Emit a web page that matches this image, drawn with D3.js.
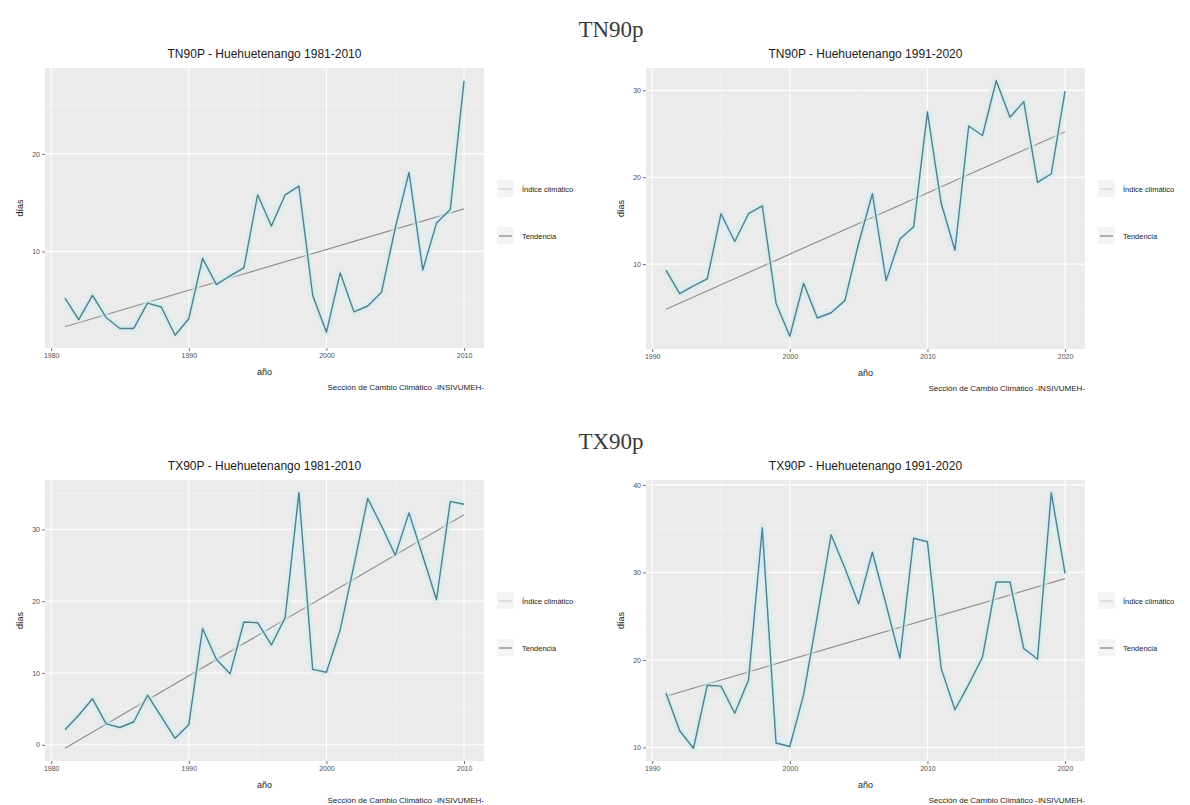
<!DOCTYPE html>
<html>
<head>
<meta charset="utf-8">
<script src="https://cdn.jsdelivr.net/npm/d3@7"></script>
<style>
  html, body { margin: 0; padding: 0; background: #ffffff; }
  svg { display: block; }
</style>
</head>
<body>
<svg id="chart" width="1190" height="805"></svg>
<script>
// Percentile-based temperature indices, Huehuetenango (days per year)
const years8110 = d3.range(1981, 2011);
const years9120 = d3.range(1991, 2021);

const tn90p8110 = [5.2, 3.0, 5.5, 3.2, 2.1, 2.1, 4.7, 4.3, 1.4, 3.1,
                   9.3, 6.6, 7.5, 8.3, 15.8, 12.6, 15.8, 16.7, 5.5, 1.7,
                   7.8, 3.8, 4.4, 5.8, 12.4, 18.1, 8.1, 12.9, 14.3, 27.5];
const tn90p9120 = [9.3, 6.6, 7.5, 8.3, 15.8, 12.6, 15.8, 16.7, 5.5, 1.7,
                   7.8, 3.8, 4.4, 5.8, 12.4, 18.1, 8.1, 12.9, 14.3, 27.5,
                   17.0, 11.6, 25.9, 24.8, 31.1, 26.9, 28.7, 19.4, 20.4, 29.9];
const tx90p8110 = [2.1, 4.1, 6.4, 2.9, 2.4, 3.2, 6.9, 3.9, 0.9, 2.8,
                   16.2, 11.9, 9.9, 17.1, 17.0, 13.9, 17.7, 35.1, 10.5, 10.1,
                   16.0, 25.0, 34.3, 30.5, 26.4, 32.3, 26.3, 20.2, 33.9, 33.5];
const tx90p9120 = [16.2, 11.9, 9.9, 17.1, 17.0, 13.9, 17.7, 35.1, 10.5, 10.1,
                   16.0, 25.0, 34.3, 30.5, 26.4, 32.3, 26.3, 20.2, 33.9, 33.5,
                   19.0, 14.3, 17.2, 20.3, 28.9, 28.9, 21.3, 20.1, 39.1, 29.9];

const xTicks8110 = [1980, 1990, 2000, 2010];
const xTicks9120 = [1990, 2000, 2010, 2020];
const yTicksTN8110 = [10, 20];
const yTicksTN9120 = [10, 20, 30];
const yTicksTX8110 = [0, 10, 20, 30];
const yTicksTX9120 = [10, 20, 30, 40];

const sectionTitles = ["TN90p", "TX90p"];
const legendLabels = ["Índice climático", "Tendencia"];
const caption = "Sección de Cambio Climático -INSIVUMEH-";

const panels = [
  { title: "TN90P - Huehuetenango 1981-2010", years: years8110, values: tn90p8110,
    xTicks: xTicks8110, yTicks: yTicksTN8110, box: [45, 68, 484, 348] },
  { title: "TN90P - Huehuetenango 1991-2020", years: years9120, values: tn90p9120,
    xTicks: xTicks9120, yTicks: yTicksTN9120, box: [646, 68, 1085, 349] },
  { title: "TX90P - Huehuetenango 1981-2010", years: years8110, values: tx90p8110,
    xTicks: xTicks8110, yTicks: yTicksTX8110, box: [45, 480, 484, 761] },
  { title: "TX90P - Huehuetenango 1991-2020", years: years9120, values: tx90p9120,
    xTicks: xTicks9120, yTicks: yTicksTX9120, box: [646, 480, 1085, 761] }
];

const SANS = "'Liberation Sans', Arial, Helvetica, sans-serif";
const SERIF = "'Liberation Serif', 'Times New Roman', serif";
const svg = d3.select("#chart");

// Section headings
svg.append("text").attr("x", 611).attr("y", 37).attr("text-anchor", "middle")
  .attr("font-family", SERIF).attr("font-size", 23).attr("fill", "#3a3a3a")
  .text(sectionTitles[0]);
svg.append("text").attr("x", 611).attr("y", 449).attr("text-anchor", "middle")
  .attr("font-family", SERIF).attr("font-size", 23).attr("fill", "#3a3a3a")
  .text(sectionTitles[1]);

// Ordinary least-squares fit used for the trend line
function linearFit(xs, ys) {
  const mx = d3.mean(xs), my = d3.mean(ys);
  let sxy = 0, sxx = 0;
  xs.forEach((x, i) => { sxy += (x - mx) * (ys[i] - my); sxx += (x - mx) * (x - mx); });
  const b = sxy / sxx;
  return x => my + b * (x - mx);
}

// Soft edge around the series line
const defs = svg.append("defs");
defs.append("filter").attr("id", "soft").attr("x", "-5%").attr("y", "-5%")
  .attr("width", "110%").attr("height", "110%")
  .append("feGaussianBlur").attr("stdDeviation", 1.6);

function drawPanel(p) {
  const [x0, y0, x1, y1] = p.box;
  const fit = linearFit(p.years, p.values);
  const yrMin = d3.min(p.years), yrMax = d3.max(p.years);
  const trend = [[yrMin, fit(yrMin)], [yrMax, fit(yrMax)]];

  // 5% expansion of the data range (series + trend)
  const allY = p.values.concat(trend.map(d => d[1]));
  const ext = d3.extent(allY);
  const padY = (ext[1] - ext[0]) * 0.05;
  const padX = (yrMax - yrMin) * 0.05;

  const x = d3.scaleLinear().domain([yrMin - padX, yrMax + padX]).range([x0, x1]);
  const y = d3.scaleLinear().domain([ext[0] - padY, ext[1] + padY]).range([y1, y0]);

  const g = svg.append("g");

  // Panel background
  g.append("rect").attr("x", x0).attr("y", y0).attr("width", x1 - x0).attr("height", y1 - y0)
    .attr("fill", "#ebebeb");

  // Minor grid
  const xMinor = p.xTicks.slice(0, -1).map(t => t + 5).filter(t => x(t) > x0 && x(t) < x1);
  const yStep = p.yTicks[1] - p.yTicks[0];
  const yMinor = d3.range(p.yTicks[0] - yStep / 2, p.yTicks[p.yTicks.length - 1] + yStep, yStep)
    .filter(v => y(v) > y0 && y(v) < y1);
  g.selectAll(".xminor").data(xMinor).join("line")
    .attr("x1", d => x(d)).attr("x2", d => x(d)).attr("y1", y0).attr("y2", y1)
    .attr("stroke", "#f5f5f5").attr("stroke-width", 0.6);
  g.selectAll(".yminor").data(yMinor).join("line")
    .attr("x1", x0).attr("x2", x1).attr("y1", d => y(d)).attr("y2", d => y(d))
    .attr("stroke", "#f5f5f5").attr("stroke-width", 0.6);

  // Major grid
  g.selectAll(".xmajor").data(p.xTicks).join("line")
    .attr("x1", d => x(d)).attr("x2", d => x(d)).attr("y1", y0).attr("y2", y1)
    .attr("stroke", "#ffffff").attr("stroke-width", 1.1);
  g.selectAll(".ymajor").data(p.yTicks).join("line")
    .attr("x1", x0).attr("x2", x1).attr("y1", d => y(d)).attr("y2", d => y(d))
    .attr("stroke", "#ffffff").attr("stroke-width", 1.1);

  // Axes
  const xAxis = d3.axisBottom(x).tickValues(p.xTicks).tickSize(3).tickPadding(2)
    .tickFormat(d3.format("d"));
  const yAxis = d3.axisLeft(y).tickValues(p.yTicks).tickSize(3).tickPadding(2)
    .tickFormat(d3.format("d"));
  const gx = g.append("g").attr("transform", `translate(0,${y1})`).call(xAxis);
  const gy = g.append("g").attr("transform", `translate(${x0},0)`).call(yAxis);
  [gx, gy].forEach(a => {
    a.select(".domain").remove();
    a.selectAll(".tick line").attr("stroke", "#4d4d4d").attr("stroke-width", 0.8);
    a.selectAll(".tick text").attr("fill", "#4d4d4d").attr("font-family", SANS)
      .attr("font-size", 7);
  });

  const line = d3.line().x(d => x(d[0])).y(d => y(d[1]));
  const series = p.years.map((yr, i) => [yr, p.values[i]]);

  // Trend
  g.append("path").datum(trend).attr("d", line).attr("fill", "none")
    .attr("stroke", "#909090").attr("stroke-width", 1.2);

  // Index series with a pale halo
  g.append("path").datum(series).attr("d", line).attr("fill", "none")
    .attr("stroke", "#d2ebf1").attr("stroke-width", 6).attr("stroke-linejoin", "round")
    .attr("filter", "url(#soft)").attr("opacity", 0.9);
  g.append("path").datum(series).attr("d", line).attr("fill", "none")
    .attr("stroke", "#517f8b").attr("stroke-width", 1.4).attr("stroke-linejoin", "round");

  // Texts
  const cx = (x0 + x1) / 2;
  g.append("text").attr("x", cx).attr("y", y0 - 10).attr("text-anchor", "middle")
    .attr("font-family", SANS).attr("font-size", 12).attr("fill", "#1a1a1a").text(p.title);
  g.append("text").attr("x", cx).attr("y", y1 + 27).attr("text-anchor", "middle")
    .attr("font-family", SANS).attr("font-size", 9).attr("fill", "#1a1a1a").text("año");
  g.append("text").attr("transform", `translate(${x0 - 22},${(y0 + y1) / 2}) rotate(-90)`)
    .attr("text-anchor", "middle").attr("font-family", SANS).attr("font-size", 9)
    .attr("fill", "#1a1a1a").text("días");
  g.append("text").attr("x", x1).attr("y", y1 + 42).attr("text-anchor", "end")
    .attr("font-family", SANS).attr("font-size", 8).attr("fill", "#1a1a1a").text(caption);

  // Legend
  const keyColors = ["#d4d4d4", "#8a8a8a"];
  legendLabels.forEach((lab, i) => {
    const ly = y0 + 121 + i * 47;
    const kx = x1 + 13;
    g.append("rect").attr("x", kx).attr("y", ly - 9).attr("width", 17).attr("height", 17)
      .attr("fill", "#f4f4f4");
    g.append("line").attr("x1", kx + 2).attr("x2", kx + 15).attr("y1", ly).attr("y2", ly)
      .attr("stroke", keyColors[i]).attr("stroke-width", 1.3);
    g.append("text").attr("x", x1 + 38).attr("y", ly + 2.5).attr("font-family", SANS)
      .attr("font-size", 7.5).attr("fill", "#1a1a1a").text(lab);
  });
}

panels.forEach(drawPanel);
</script>
</body>
</html>
